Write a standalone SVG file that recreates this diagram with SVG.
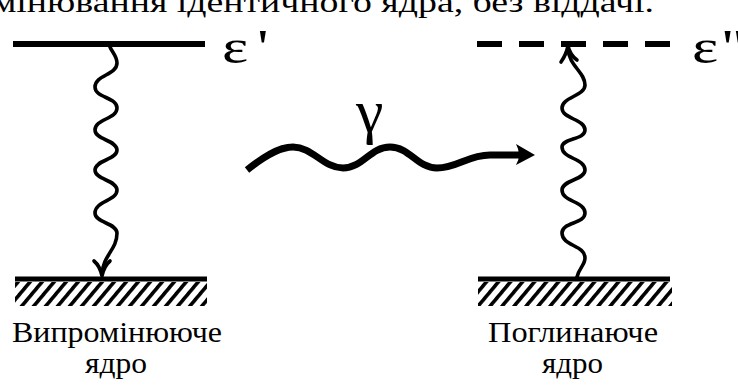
<svg xmlns="http://www.w3.org/2000/svg" width="738" height="385" viewBox="0 0 738 385">
<style>
text{font-family:'Liberation Serif','Times New Roman',serif;fill:#000}
.lbl{font-size:29px}
.eps{font-size:48px}
.wave{fill:none;stroke:#000;stroke-width:3.6;stroke-linecap:round;stroke-linejoin:round}
.lvl{stroke:#000;stroke-width:6}
.gnd{stroke:#000;stroke-width:5}
</style>
<defs>
<pattern id="hatch" patternUnits="userSpaceOnUse" width="9.2" height="20" patternTransform="rotate(40)">
<rect x="0" y="0" width="3.6" height="20" fill="#000"/>
</pattern>
</defs>
<rect width="738" height="385" fill="#fff"/>
<text x="-103" y="12" font-size="29" textLength="757" lengthAdjust="spacingAndGlyphs">випромінювання ідентичного ядра, без віддачі.</text>

<g id="level-upper-left">
<line class="lvl" x1="13" y1="44" x2="205" y2="44"/>
<text class="eps" transform="translate(222,63) scale(1.3,1)">ε<tspan dx="7">'</tspan></text>
</g>
<g id="level-upper-right">
<line class="lvl" x1="477" y1="44" x2="670" y2="44" stroke-dasharray="25 17"/>
<text class="eps" transform="translate(692,63) scale(1.3,1)">ε<tspan dx="3">''</tspan></text>
</g>
<g id="nucleus-emitting">
<line class="gnd" x1="15" y1="279" x2="207" y2="279"/>
<rect x="15" y="282" width="192" height="24" fill="url(#hatch)"/>
<text class="lbl" x="12" y="342" textLength="210" lengthAdjust="spacingAndGlyphs">Випромінююче</text>
<text class="lbl" x="85" y="373" textLength="62" lengthAdjust="spacingAndGlyphs">ядро</text>
</g>
<g id="nucleus-absorbing">
<line class="gnd" x1="478" y1="279" x2="670" y2="279"/>
<rect x="478" y="282" width="194" height="24" fill="url(#hatch)"/>
<text class="lbl" x="488" y="342" textLength="170" lengthAdjust="spacingAndGlyphs">Поглинаюче</text>
<text class="lbl" x="542" y="373" textLength="61" lengthAdjust="spacingAndGlyphs">ядро</text>
</g>
<g id="gamma">
<text x="356" y="132" font-size="62">γ</text>
</g>
<g id="connectors">
<path class="wave" d="M110,47 C112,52 117,56 117,63 C117,75 95,75 95,87 C95,98 117,97 117,108 C117,119 95,119 95,130 C95,140 117,140 117,150 C117,160 95,160 95,170 C95,180 117,180 117,190 C117,201 95,201 95,213 C95,223 117,223 117,233 C117,250 103,255 102,274"/>
<path class="wave" d="M94,261 Q100,266 102,276 Q104,266 110,261"/>
<path class="wave" d="M577,277 C579,268 585,265 585,258 C585,245 562,246 562,233 C562,222 585,224 585,213 C585,201 562,202 562,190 C562,180 585,180 585,170 C585,158 562,159 562,147 C562,138 585,140 585,130 C585,119 562,119 562,108 C562,97 585,96 585,85 C585,72 569,66 568,49"/>
<path class="wave" d="M561,62 Q566,55 568,46 Q570,55 577,60"/>
<path fill="none" stroke="#000" stroke-width="7" stroke-linecap="butt" d="M247,170 C262,158 278,147 293,147 C313,147 323,168 343,168 C363,168 370,147 390,147 C410,147 417,168 437,168 C457,168 468,155 490,155 L522,155"/>
<path fill="#000" d="M516,144 L535,155 L516,165 Q522,155 516,144 Z"/>
</g>
</svg>
